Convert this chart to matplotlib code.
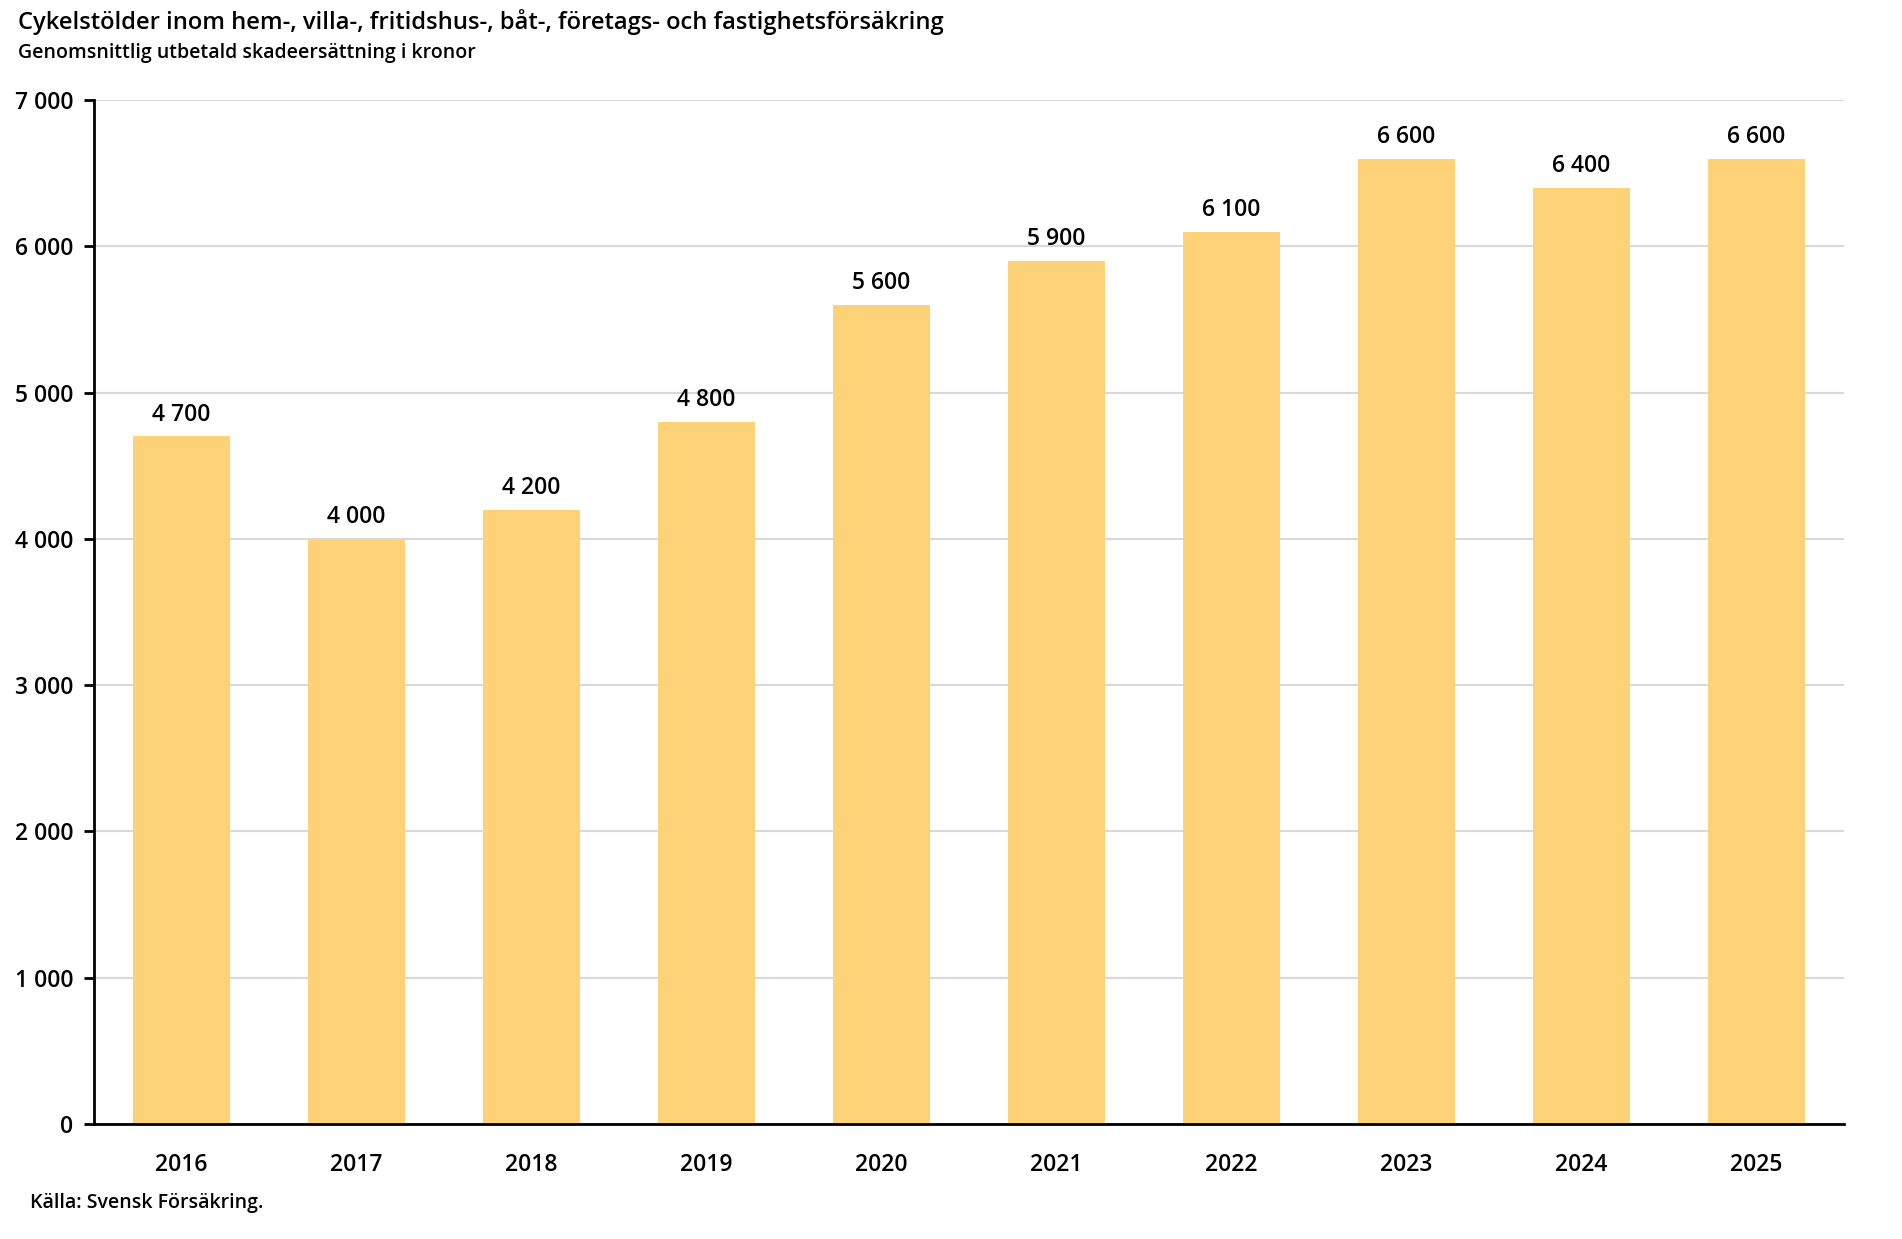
import matplotlib
matplotlib.use("Agg")
import matplotlib.pyplot as plt
from matplotlib.ticker import FuncFormatter

years = ["2016", "2017", "2018", "2019", "2020", "2021", "2022", "2023", "2024", "2025"]
values = [4700, 4000, 4200, 4800, 5600, 5900, 6100, 6600, 6400, 6600]
yticks = [0, 1000, 2000, 3000, 4000, 5000, 6000, 7000]

title = "Cykelstölder inom hem-, villa-, fritidshus-, båt-, företags- och fastighetsförsäkring"
subtitle = "Genomsnittlig utbetald skadeersättning i kronor"
source = "Källa: Svensk Försäkring."

plt.rcParams['font.family'] = ['Open Sans', 'DejaVu Sans']
plt.rcParams['font.weight'] = 'semibold'

def fmt(v):
    return f"{int(v):,}".replace(",", " ")

W, H = 1902, 1239
fig = plt.figure(figsize=(W / 100, H / 100), dpi=100)
ax = fig.add_axes([94 / W, 1 - 1124 / H, (1844 - 94) / W, (1124 - 100) / H])

x = list(range(len(years)))
bars = ax.bar(x, values, width=0.555, color="#FED378", zorder=2)

ax.set_xlim(-0.5, len(years) - 0.5)
ax.set_ylim(0, 7000)
ax.set_yticks(yticks)
ax.yaxis.set_major_formatter(FuncFormatter(lambda v, p: fmt(v)))
ax.set_xticks(x)
ax.set_xticklabels(years)

ax.grid(axis="y", color="#D9D9D9", linewidth=1.5, zorder=0)
ax.set_axisbelow(True)
for s in ["top", "right"]:
    ax.spines[s].set_visible(False)
ax.spines["left"].set_linewidth(2)
ax.spines["bottom"].set_linewidth(2)
ax.tick_params(axis="y", length=7, width=2, labelsize=16.5, pad=8)
ax.tick_params(axis="x", length=0, labelsize=16.5, pad=21)

for xi, v in zip(x, values):
    ax.annotate(fmt(v), (xi, v), xytext=(0, 15.5), textcoords="offset points",
                ha="center", va="center", fontsize=16.5)

fig.text(18 / W, 1 - 22 / H, title, fontsize=17.1, ha="left", va="center")
fig.text(18 / W, 1 - 53 / H, subtitle, fontsize=14, ha="left", va="center")
fig.text(30 / W, 1 - 1203 / H, source, fontsize=14, ha="left", va="center")

fig.savefig("out.png", dpi=100)
